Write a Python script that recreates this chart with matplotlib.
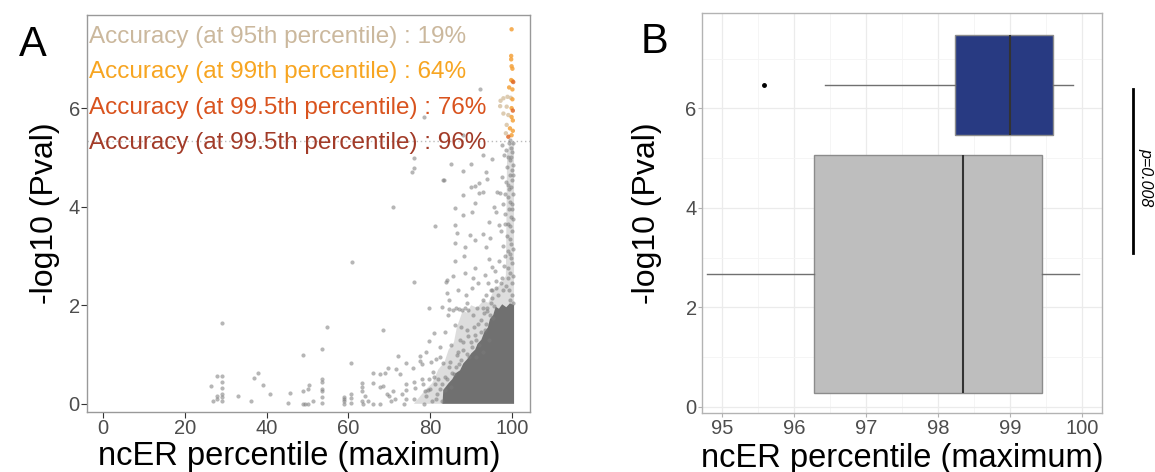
import matplotlib
matplotlib.use("Agg")
import matplotlib.pyplot as plt
from matplotlib.lines import Line2D
import numpy as np

plt.rcParams['font.family'] = ['Liberation Sans', 'DejaVu Sans']

# ---- panel A: scattered points (ncER percentile, -log10 Pval) ----
gray_x = [26.4, 27.0, 27.8, 29.1, 27.9, 27.9, 29.1, 29.1, 29.1, 29.1, 29.1, 29.2,
          33.1, 36.1, 36.9, 37.9, 39.0, 40.8, 45.3, 45.8, 48.8, 48.8, 49.0, 49.5,
          50.2, 50.0, 50.4, 51.3, 53.5, 53.5, 53.5, 53.6, 53.6, 53.5, 53.5, 54.7,
          58.8, 58.8, 58.8, 58.8, 60.6, 60.6, 60.7, 60.6, 60.8, 63.4, 63.4, 63.4,
          63.4, 63.5, 64.1, 64.9, 65.9, 65.9, 66.1, 67.6, 67.7, 67.8, 68.5, 68.4,
          68.9, 69.6, 69.4, 69.9, 70.4, 71.0, 71.4, 71.6, 72.2, 72.6, 73.1, 73.5,
          74.1, 74.2, 74.2, 74.2, 75.7, 76.0, 76.0, 76.4, 76.1, 77.5, 77.6, 77.9,
          78.3, 78.8, 78.4, 79.0, 79.4, 79.6, 79.7, 79.7, 80.1, 80.6, 80.9, 81.2,
          81.6, 82.4, 82.8, 82.4, 83.1, 83.9, 84.4, 84.5, 84.7,
          93.0, 85.0, 89.9, 95.0, 88.1, 83.2, 93.6, 93.8, 92.0, 91.0, 89.9, 93.0,
          92.0, 88.1, 96.4, 97.1, 91.0, 86.1, 90.3, 88.1, 95.6, 96.2, 81.2, 86.1,
          86.6, 94.4, 96.9, 89.7, 91.0, 93.0, 94.6, 86.1, 88.5, 93.6, 88.2, 86.1,
          94.4, 95.0, 93.4, 90.5, 84.0, 92.2, 78.5, 76.0, 76.0, 83.4, 70.9, 75.5,
          88.0,
          85.5, 86.2, 87.0, 87.8, 88.5, 89.2, 86.0, 87.5, 89.0, 90.5, 91.5, 92.5,
          93.2, 94.0, 94.8, 95.3, 90.0, 91.0, 92.0, 93.5, 85.0, 86.5, 88.0, 89.5,
          84.5, 85.8, 87.0, 83.5, 82.0, 81.0, 80.0, 82.5, 81.5, 80.5, 83.0, 84.2,
          86.8, 88.7, 90.2, 91.8, 93.7, 95.2, 96.0, 89.0, 92.8, 95.8, 96.8, 97.5,
          97.8, 96.5, 94.2, 87.2, 91.3, 93.0, 94.3, 85.2, 78.0, 79.0, 81.5, 83.6,
          85.5, 88.5, 91.0,
          99.6, 100.1, 99.2, 98.6, 99.9, 100.2, 99.4, 98.9, 100.0, 99.7, 98.3, 99.1,
          100.2, 99.8, 99.4, 98.7, 100.0, 99.5, 99.0, 100.2, 99.7, 98.4, 99.3, 100.0,
          99.6, 98.9, 100.2, 99.2, 99.8, 98.5, 100.0, 99.4, 99.9, 98.8, 100.2, 99.5,
          99.0, 100.0, 99.7, 98.6, 99.3, 97.6, 97.9, 97.4, 97.8, 98.0, 97.3, 98.1,
          97.5, 100.1, 99.0, 100.3, 99.5, 98.2, 99.1, 100.3, 98.3, 99.8, 100.3, 99.6,
          84.0, 85.3, 86.4, 87.6, 88.9, 90.1, 91.2, 92.4, 93.6, 94.6, 95.6, 84.8,
          86.9, 89.3, 91.7, 93.9, 95.0, 96.1, 82.9, 83.7, 87.9, 90.6, 92.9, 94.9]
gray_y = [0.36, 0.06, 0.57, 0.57, 0.15, 0.10, 0.45, 0.33, 0.20, 0.13, 0.05, 1.65,
          0.15, 0.05, 0.52, 0.62, 0.38, 0.20, 0.01, 0.21, 0.99, 0.27, 0.00, 0.00,
          0.00, 0.31, 0.38, 0.05, 1.11, 0.50, 0.45, 0.30, 0.27, 0.13, 0.02, 1.55,
          0.13, 0.10, 0.05, 0.00, 0.82, 0.20, 0.12, 0.02, 2.88, 0.42, 0.35, 0.25,
          0.05, 0.00, 0.15, 0.05, 0.62, 0.43, 0.00, 0.61, 0.35, 0.00, 1.49, 0.37,
          0.62, 0.72, 0.20, 0.15, 0.05, 0.27, 0.10, 0.70, 0.98, 0.60, 0.20, 0.00,
          0.82, 0.40, 0.28, 0.10, 0.72, 2.47, 0.45, 0.33, 0.10, 0.97, 0.86, 0.50,
          0.40, 0.25, 0.00, 0.15, 0.28, 0.50, 1.94, 1.28, 0.84, 0.65, 1.43, 0.40,
          0.20, 1.15, 1.96, 0.96, 0.82, 2.48, 1.80, 1.93, 2.10,
          5.05, 4.87, 4.87, 4.96, 4.72, 4.54, 4.70, 4.57, 4.49, 4.41, 4.39, 4.30,
          4.27, 4.24, 4.30, 4.27, 4.08, 3.98, 3.90, 3.83, 4.00, 3.90, 3.61, 3.62,
          3.47, 3.69, 3.62, 3.43, 3.32, 3.44, 3.36, 3.26, 3.18, 3.18, 3.00, 2.90,
          2.93, 2.78, 2.61, 2.55, 2.51, 6.38, 5.82, 4.99, 4.78, 4.55, 4.00, 4.70,
          5.45,
          1.90, 1.95, 1.92, 1.90, 1.95, 1.90, 1.60, 1.55, 1.50, 1.80, 1.95, 1.70,
          1.85, 1.95, 2.05, 1.75, 1.25, 1.40, 1.20, 1.50, 1.20, 1.00, 1.10, 0.95,
          0.75, 0.60, 0.80, 0.55, 0.50, 0.55, 0.30, 0.30, 0.10, 0.05, 0.05, 2.25,
          2.30, 2.20, 2.35, 2.45, 2.20, 2.30, 2.50, 2.05, 2.10, 2.70, 2.90, 2.55,
          2.30, 2.20, 2.45, 1.30, 0.95, 1.05, 1.30, 0.35, 0.80, 1.05, 0.90, 1.45,
          2.60, 2.65, 2.75,
          2.10, 2.20, 2.30, 2.40, 2.45, 2.60, 2.65, 2.75, 2.85, 2.95, 3.00, 3.10,
          3.15, 3.25, 3.35, 3.40, 3.50, 3.60, 3.65, 3.75, 3.80, 3.85, 3.95, 4.05,
          4.10, 4.20, 4.25, 4.35, 4.40, 4.50, 4.55, 4.65, 4.75, 4.80, 4.85, 4.95,
          5.00, 5.10, 5.20, 5.15, 5.30, 4.60, 4.05, 3.50, 3.20, 2.80, 2.45, 5.05,
          5.25, 3.95, 2.55, 2.05, 3.05, 3.65, 4.45, 4.65, 4.25, 5.00, 5.30, 5.35,
          0.50, 0.62, 0.75, 0.88, 1.02, 1.15, 1.30, 1.45, 1.62, 1.80, 1.98, 0.85,
          1.05, 1.38, 1.62, 1.88, 2.15, 2.35, 0.40, 0.28, 1.25, 1.55, 1.95, 2.30]

# outline of the saturated point cloud (bottom right corner)
core_x = [83.0, 83.2, 84.5, 85.4, 86.2, 87.3, 88.1, 89.2, 90.0, 91.0, 91.6, 92.5,
          93.2, 94.1, 94.6, 95.4, 96.0, 96.8, 97.6, 98.6, 99.5, 100.5, 100.5]
core_y = [0.0, 0.28, 0.42, 0.50, 0.62, 0.68, 0.82, 0.92, 1.02, 1.10, 1.22, 1.30,
          1.45, 1.55, 1.72, 1.80, 1.97, 1.93, 2.02, 1.96, 2.04, 2.0, 0.0]
# lighter, speckled halo around the saturated cloud
halo_x = [76.0, 79.0, 80.5, 82.0, 83.5, 84.5, 85.8, 86.5, 88.0, 89.0, 90.0, 91.5,
          93.0, 94.2, 95.5, 97.5, 98.5, 98.8, 99.5, 100.5, 100.5]
halo_y = [0.0, 0.30, 0.42, 0.70, 0.85, 1.10, 1.25, 1.55, 1.90, 1.85, 2.00, 1.95,
          2.10, 2.05, 2.30, 2.45, 2.60, 5.10, 5.30, 5.30, 0.0]

# top hits coloured by accuracy threshold (0: 95th, 1: 99th, 2: 99.5th)
top_x = [99.9, 99.8, 99.8, 99.9, 100.1, 99.8, 100.1, 100.3, 99.3, 100.1, 98.9, 99.7,
         100.1, 97.2, 97.9, 97.1, 98.7, 99.9, 100.2, 97.9, 99.1, 99.9, 100.2, 98.7,
         99.5, 100.2, 99.9, 99.1, 98.5]
top_y = [7.60, 7.06, 6.99, 6.85, 6.80, 6.57, 6.55, 6.53, 6.42, 6.38, 6.23, 6.21,
         6.18, 6.15, 6.20, 6.04, 6.03, 6.00, 5.95, 5.89, 5.86, 5.82, 5.75, 5.66,
         5.59, 5.54, 5.45, 5.42, 5.49]
top_grp = [1, 1, 1, 1, 1, 1, 1, 2, 1, 1, 0, 0, 1, 0, 0, 0, 0, 1, 2, 0, 0, 1, 1, 0,
           1, 1, 1, 2, 0]
threshold_y = 5.33

acc_labels = ["Accuracy (at 95th percentile) : 19%",
              "Accuracy (at 99th percentile) : 64%",
              "Accuracy (at 99.5th percentile) : 76%",
              "Accuracy (at 99.5th percentile) : 96%"]
acc_colors = ['#CBB89D', '#F7A521', '#D9531E', '#A23B28']

# ---- panel B: boxplot stats ----
box_names = ["other", "top"]
box_pos = [2.67, 6.475]
box_width = [4.8, 2.01]
box_q1 = [96.27, 98.24]
box_med = [98.34, 99.0]
box_q3 = [99.44, 99.60]
box_lo = [94.78, 96.43]
box_hi = [99.96, 99.88]
box_fliers = [[], [95.58]]
box_colors = ['#BEBEBE', '#283A82']
pval_text = "p=0.008"

W, H = 1155, 472
fig = plt.figure(figsize=(W / 100, H / 100), dpi=100)

def fx(px):
    return px / W

def fy(py):
    return 1 - py / H

tick_col = '#4D4D4D'

# ----- A -----
axA = fig.add_axes([fx(86.7), fy(411.7), fx(530) - fx(86.7), fy(15) - fy(411.7)])
axA.fill(halo_x, halo_y, color='#A8A8A8', alpha=0.38, lw=0, zorder=1)
axA.fill(core_x, core_y, color='#707070', lw=0, zorder=1)
axA.scatter(gray_x, gray_y, s=9, color='#7A7A7A', alpha=0.55, lw=0, zorder=2)
axA.axhline(threshold_y, color='#BBBBBB', ls=(0, (1, 2)), lw=1, zorder=0)
pt_cols = [['#D8C3A5', '#F4A13A', '#E06A2A'][g] for g in top_grp]
axA.scatter(top_x, top_y, s=10, c=pt_cols, alpha=0.85, lw=0, zorder=3)
axA.set_xlim(-4.0, 104.4)
axA.set_ylim(-0.16, 7.89)
axA.set_xticks([0, 20, 40, 60, 80, 100])
axA.set_yticks([0, 2, 4, 6])
for s in axA.spines.values():
    s.set_color('#999999')
    s.set_linewidth(1)
axA.tick_params(length=4, width=0.8, color='#333333', labelsize=14.5, labelcolor=tick_col, pad=1)
axA.set_xlabel("ncER percentile (maximum)", fontsize=23.5)
axA.set_ylabel("-log10 (Pval)", fontsize=23)
axA.xaxis.set_label_coords(0.48, -0.075)
axA.yaxis.set_label_coords(-0.06, 0.5)
for i, lab in enumerate(acc_labels):
    fig.text(fx(89), fy(37 + 35.3 * i), lab, color=acc_colors[i], fontsize=17.5,
             ha='left', va='center')

# ----- B -----
axB = fig.add_axes([fx(702.3), fy(413.3), fx(1102) - fx(702.3), fy(13) - fy(413.3)])
stats = []
for i in range(len(box_names)):
    stats.append(dict(label=box_names[i], med=box_med[i], q1=box_q1[i], q3=box_q3[i],
                      whislo=box_lo[i], whishi=box_hi[i], fliers=box_fliers[i]))
bp = axB.bxp(stats, positions=box_pos, widths=box_width, orientation='horizontal',
             showcaps=False, patch_artist=True,
             boxprops=dict(edgecolor='#8C8C8C', lw=1),
             medianprops=dict(color='#333333', lw=1.5),
             whiskerprops=dict(color='#707070', lw=1),
             flierprops=dict(marker='o', markersize=2.5, markerfacecolor='black',
                             markeredgecolor='black'))
for patch, c in zip(bp['boxes'], box_colors):
    patch.set_facecolor(c)
for art in bp['boxes'] + bp['medians'] + bp['whiskers']:
    art.set_zorder(3)
axB.set_xlim(94.72, 100.28)
axB.set_ylim(-0.13, 7.92)
axB.set_xticks([95, 96, 97, 98, 99, 100])
axB.set_xticklabels(['95', '96', '97', '98', '99', '100'])
axB.set_yticks([0, 2, 4, 6])
axB.set_yticklabels(['0', '2', '4', '6'])
axB.set_xticks(np.arange(95.5, 100, 1.0), minor=True)
axB.set_yticks([1, 3, 5, 7], minor=True)
axB.grid(True, which='major', color='#EBEBEB', lw=0.9, zorder=0)
axB.grid(True, which='minor', color='#F4F4F4', lw=0.6, zorder=0)
axB.set_axisbelow(True)
for s in axB.spines.values():
    s.set_color('#B3B3B3')
    s.set_linewidth(1)
axB.tick_params(length=3, width=0.8, color='#B3B3B3', labelsize=14.5, labelcolor=tick_col, pad=1)
axB.tick_params(which='minor', length=0)
axB.set_xlabel("ncER percentile (maximum)", fontsize=23.5)
axB.set_ylabel("-log10 (Pval)", fontsize=23)
axB.xaxis.set_label_coords(0.5, -0.075)
axB.yaxis.set_label_coords(-0.10, 0.5)

# significance bar
fig.add_artist(Line2D([fx(1133), fx(1133)], [fy(89), fy(253)], color='black', lw=2))
fig.text(fx(1146), fy(177), pval_text, rotation=-90, style='italic', fontsize=11.5,
         ha='center', va='center')

# panel letters
fig.text(fx(33), fy(45), "A", fontsize=30, ha='center', va='center')
fig.text(fx(655), fy(42), "B", fontsize=30, ha='center', va='center')

fig.savefig("out.png", dpi=100)
